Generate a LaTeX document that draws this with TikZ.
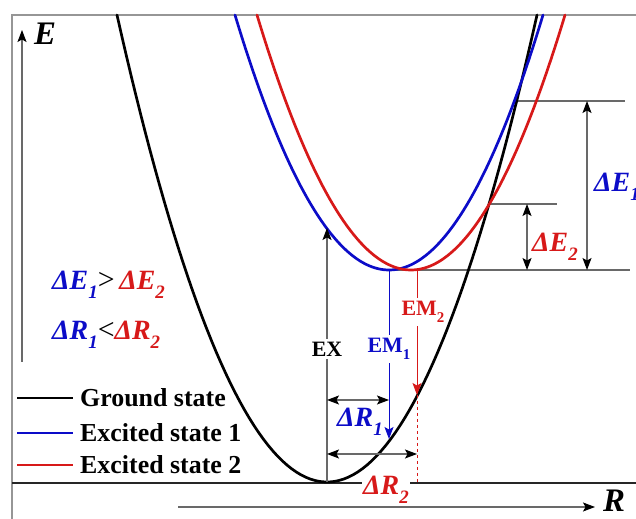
\documentclass[tikz,border=0pt]{standalone}
\usepackage{fontspec}
\setmainfont{Liberation Serif}
\usetikzlibrary{arrows.meta,calc}
\definecolor{pesBlue}{RGB}{12,12,200}
\definecolor{pesRed}{RGB}{215,25,25}
\definecolor{pesGray}{RGB}{105,105,105}
\definecolor{pesFrame}{RGB}{150,150,150}
\newcommand{\pessub}[1]{\raisebox{-0.32em}{\fontsize{19}{20}\selectfont #1}}
\tikzset{
  % Potential curves: ground and the two excited states.
  pes/curve/.style={line width=2.7pt, line cap=round},
  % Thin guide lines, levels and the frame.
  pes/frame/.style={draw=pesFrame, line width=1.2pt},
  pes/level/.style={draw=pesGray, line width=1.3pt},
  pes/base/.style={draw=black!85, line width=1.8pt},
  % Arrows. Grey shaft, black head.
  pes/arrow/.style={-{Stealth[length=12bp,width=9bp,inset=2.5bp,color=black]}, draw=pesGray, line width=1.1pt},
  pes/dbl/.style={{Stealth[length=12bp,width=9bp,inset=2.5bp,color=black]}-{Stealth[length=12bp,width=9bp,inset=2.5bp,color=black]},
    draw=pesGray, line width=1.1pt},
  pes/emit/.style={-{Stealth[length=12bp,width=9bp,inset=2.5bp]}, line width=1pt},
  % Labels.
  pes/axlabel/.style={font=\fontsize{33}{36}\selectfont\bfseries\itshape, inner sep=0pt},
  pes/dlabel/.style={font=\fontsize{28}{30}\selectfont\bfseries\itshape, inner sep=1pt},
  pes/tlabel/.style={font=\fontsize{22}{26}\selectfont\bfseries, fill=white, inner sep=3pt},
  pes/legend/.style={font=\fontsize{26}{30}\selectfont\bfseries, anchor=west, inner sep=0pt},
}
\begin{document}
\begin{tikzpicture}[x=1bp,y=1bp]
  \useasboundingbox (0,0) rectangle (636,519);

  % frame, baseline and axes
  \coordinate (fbl) at (12,0);
  \coordinate (ftl) at (12,504);
  \coordinate (ftr) at (636,504);
  \draw[pes/frame] (fbl) -- (ftl) -- (ftr);
  \coordinate (bl) at (12,36);
  \coordinate (br) at (636,36);
  \draw[pes/base] (bl) -- (br);
  \coordinate (e0) at (22,157);
  \coordinate (e1) at (22,489);
  \draw[pes/arrow] (e0) -- (e1);
  \node[pes/axlabel, anchor=west] (elab) at (34,485) {E};
  \coordinate (r0) at (178,12);
  \coordinate (r1) at (595,12);
  \draw[pes/arrow] (r0) -- (r1);
  \node[pes/axlabel, anchor=west] (rlab) at (603,18) {R};

  % key points
  \coordinate (g0) at (327,37);
  \coordinate (b0) at (389,249);
  \coordinate (c0) at (411,249);
  \coordinate (xb) at (516,418);
  \coordinate (xr) at (489,315);
  \coordinate (exTop) at (327,291);
  \coordinate (em1Top) at (389,249);
  \coordinate (em1Bot) at (389,80);
  \coordinate (em2Top) at (417,249);
  \coordinate (em2Bot) at (417,124);
  \coordinate (em2Base) at (417,36);

  % energy levels
  \coordinate (l1) at (625,418);
  \coordinate (l2) at (557,315);
  \coordinate (l0) at (630,249);
  \draw[pes/level] (xb) -- (l1);
  \draw[pes/level] (xr) -- (l2);
  \draw[pes/level] (b0) -- (l0);

  % potential curves
  \draw[pes/curve, black] plot[domain=117:537, samples=90] (\x, {37+467*((\x-327)/210)^2});
  \draw[pes/curve, pesBlue] plot[domain=235:543, samples=90] (\x, {249+255*((\x-389)/154)^2});
  \draw[pes/curve, pesRed] plot[domain=257:565, samples=90] (\x, {249+255*((\x-411)/154)^2});

  % absorption and emission
  \draw[pes/arrow] (g0) -- (exTop);
  \draw[pes/emit, pesBlue] (em1Top) -- (em1Bot);
  \draw[pes/emit, pesRed] (em2Top) -- (em2Bot);
  \draw[draw=pesRed, line width=0.9pt, dash pattern=on 3bp off 3bp] (em2Bot) -- (em2Base);
  \node[pes/tlabel] (ex) at (327,170) {EX};
  \node[pes/tlabel, text=pesBlue] (em1) at (389,170) {EM\pessub{\fontsize{15}{16}\selectfont 1}};
  \node[pes/tlabel, text=pesRed] (em2) at (423,207) {EM\pessub{\fontsize{15}{16}\selectfont 2}};

  % shifts along R
  \coordinate (dr1a) at (327,119);
  \coordinate (dr1b) at (389,119);
  \coordinate (dr2a) at (327,65);
  \coordinate (dr2b) at (417,65);
  \draw[pes/dbl] (dr1a) -- (dr1b);
  \draw[pes/dbl] (dr2a) -- (dr2b);
  \node[pes/dlabel, text=pesBlue] (dr1) at (360,97) {ΔR\pessub{1}};
  \node[pes/dlabel, text=pesRed, fill=white] (dr2) at (386,29) {ΔR\pessub{2}};

  % shifts along E
  \coordinate (de1a) at (587,418);
  \coordinate (de1b) at (587,249);
  \coordinate (de2a) at (527,315);
  \coordinate (de2b) at (527,249);
  \draw[pes/dbl] (de1a) -- (de1b);
  \draw[pes/dbl] (de2a) -- (de2b);
  \node[pes/dlabel, text=pesBlue, anchor=west] (de1) at (593,332) {ΔE\pessub{1}};
  \node[pes/dlabel, text=pesRed] (de2) at (555,272) {ΔE\pessub{2}};

  % relations
  \node[pes/dlabel, anchor=base west] (rel1) at (51,229)
    {\textcolor{pesBlue}{ΔE\pessub{1}}{\normalfont\mdseries\upshape\fontsize{30}{30}\selectfont >}\,\textcolor{pesRed}{ΔE\pessub{2}}};
  \node[pes/dlabel, anchor=base west] (rel2) at (51,179)
    {\textcolor{pesBlue}{ΔR\pessub{1}}{\normalfont\mdseries\upshape\fontsize{30}{30}\selectfont <}\textcolor{pesRed}{ΔR\pessub{2}}};

  % legend
  \foreach \y/\c/\t [count=\i] in {121/black/Ground state, 86/pesBlue/Excited state 1, 54/pesRed/Excited state 2}{
    \coordinate (lg\i a) at (17,\y);
    \coordinate (lg\i b) at (73,\y);
    \draw[\c, line width=1.8pt] (lg\i a) -- (lg\i b);
    \node[pes/legend] (lt\i) at (80,\y) {\t};
  }
\end{tikzpicture}
\end{document}
